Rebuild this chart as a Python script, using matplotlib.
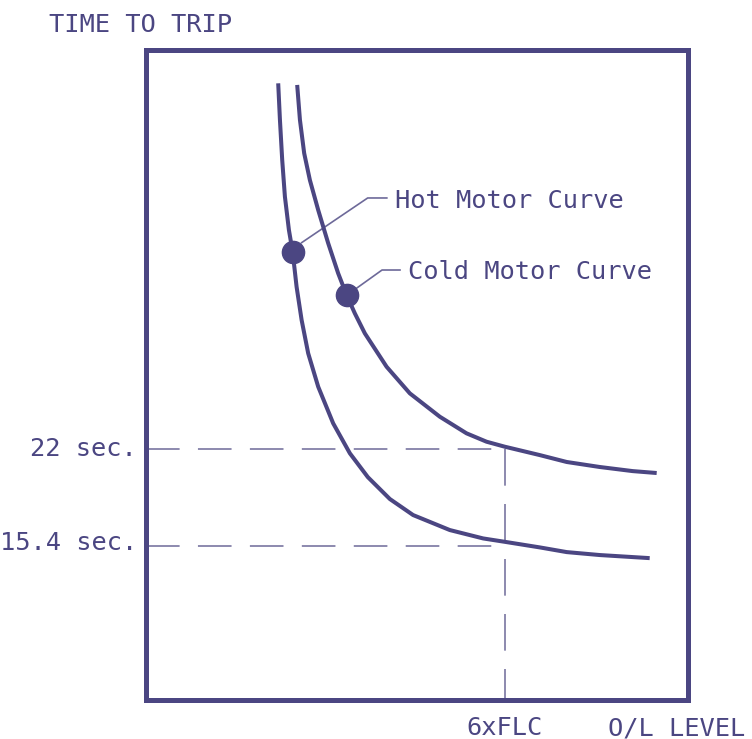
import matplotlib
matplotlib.use("Agg")
import matplotlib.pyplot as plt
import matplotlib.transforms as mtransforms

# colours
INK = '#4b4682'
THIN = '#6d6999'

# O/L level (multiples of FLC) vs time to trip (sec)
hot_x = [2.216, 2.245, 2.283, 2.328, 2.395, 2.457, 2.523, 2.607, 2.717, 2.884,
         3.134, 3.413, 3.713, 4.081, 4.469, 5.082, 5.638, 6.000, 6.584, 7.035,
         7.585, 8.420]
hot_y = [46.88, 44.39, 41.66, 39.17, 36.90, 35.42, 33.04, 30.78, 28.51, 26.24,
         23.75, 21.71, 20.09, 18.60, 17.51, 16.49, 15.92, 15.69, 15.31, 14.99,
         14.79, 14.58]

cold_x = [2.533, 2.579, 2.650, 2.745, 2.884, 3.051, 3.218, 3.358, 3.496, 3.663,
          4.026, 4.414, 4.915, 5.361, 5.695, 6.000, 6.584, 7.035, 7.585, 8.136,
          8.537]
cold_y = [46.77, 44.39, 42.12, 40.30, 38.26, 36.00, 33.95, 32.48, 31.23, 29.87,
          27.60, 25.79, 24.20, 23.07, 22.50, 22.16, 21.59, 21.12, 20.78, 20.50,
          20.37]

# marked points on each curve
hot_dot = (2.457, 35.42)
cold_dot = (3.358, 32.48)

# reference values
flc_level = 6
cold_trip = 22
hot_trip = 15.4
tick_labels = ['22 sec.', '15.4 sec.']

FONT = 'DejaVu Sans Mono'
FS = 18.3

fig = plt.figure(figsize=(7.52, 7.39), dpi=100)
ax = fig.add_axes([0.1935, 0.0534, 0.7214, 0.8796])
ax.set_xlim(0, 9.06)
ax.set_ylim(4.96, 49.18)
ax.set_xticks([])
ax.set_yticks([])
for sp in ax.spines.values():
    sp.set_color(INK)
    sp.set_linewidth(3.6)

# dashed guide lines
for yv in (cold_trip, hot_trip):
    ax.plot([0, flc_level], [yv, yv], color=THIN, lw=1.1, dashes=(22, 12),
            zorder=1)
ax.plot([flc_level, flc_level], [cold_trip, 4.96], color=THIN, lw=1.1,
        dashes=(24, 12), zorder=1)

# curves
for xs, ys in ((hot_x, hot_y), (cold_x, cold_y)):
    ax.plot(xs, ys, color=INK, lw=2.9, solid_capstyle='butt',
            solid_joinstyle='round', zorder=3)
ax.plot(*hot_dot, 'o', color=INK, ms=16, zorder=4)
ax.plot(*cold_dot, 'o', color=INK, ms=16, zorder=4)

# leader lines and labels
ax.plot([hot_dot[0] + 0.15, 3.71, 4.03], [hot_dot[1] + 0.62, 39.08, 39.08],
        color=THIN, lw=1.2, zorder=2)
ax.plot([cold_dot[0] + 0.17, 3.95, 4.25], [cold_dot[1] + 0.47, 34.18, 34.18],
        color=THIN, lw=1.2, zorder=2)
ax.text(4.16, 38.40, 'Hot Motor Curve', family=FONT, fontsize=FS, color=INK,
        va='baseline', ha='left')
ax.text(4.38, 33.55, 'Cold Motor Curve', family=FONT, fontsize=FS, color=INK,
        va='baseline', ha='left')

# y labels
ax.text(-0.14, cold_trip - 0.45, tick_labels[0], family=FONT, fontsize=FS,
        color=INK, va='baseline', ha='right', clip_on=False)
ax.text(-0.14, hot_trip - 0.27, tick_labels[1], family=FONT, fontsize=FS,
        color=INK, va='baseline', ha='right', clip_on=False)

# axis captions
fig.text(0.0652, 0.9563, 'TIME TO TRIP', family=FONT, fontsize=FS, color=INK,
         va='baseline', ha='left')
trans = mtransforms.blended_transform_factory(ax.transData, fig.transFigure)
ax.text(flc_level, 1 - 735 / 739, '6xFLC', family=FONT, fontsize=FS, color=INK,
        va='baseline', ha='center', transform=trans, clip_on=False)
fig.text(0.9907, 1 - 735 / 739, 'O/L LEVEL', family=FONT, fontsize=FS,
         color=INK, va='baseline', ha='right')

fig.savefig('out.png', dpi=100)
